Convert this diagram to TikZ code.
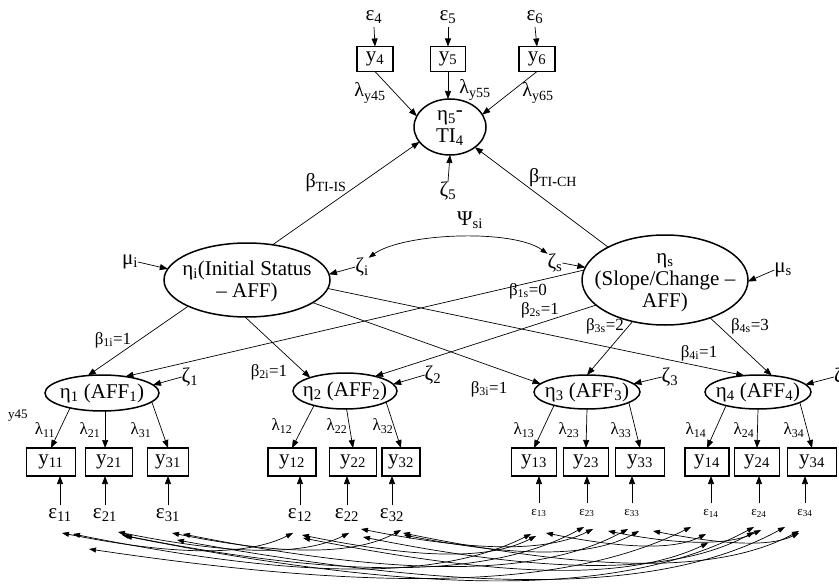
\documentclass[tikz,border=0pt]{standalone}
\usepackage{fontspec}
\setmainfont{Liberation Serif}
\usetikzlibrary{arrows.meta,shapes.geometric,calc}
\newcommand\fsA{\fontsize{21}{22}\selectfont}
\newcommand\fsB{\fontsize{17}{18}\selectfont}
\newcommand\fsC{\fontsize{13}{14}\selectfont}
\newcommand\fsD{\fontsize{20}{21}\selectfont}
\newcommand\sbs[1]{\textsubscript{#1}}
\begin{document}
\begin{tikzpicture}[x=1pt,y=-1pt,
  every node/.style={inner sep=0pt,outer sep=0pt},
  lat/.style={ellipse,draw,line width=1.5pt},
  obs/.style={rectangle,draw,line width=1.5pt,minimum height=28pt,font=\fsA},
  txt/.style={font=\fsA,align=center},
  lab/.style={font=\fsB},
  labl/.style={font=\fsD},
  err/.style={font=\fsA,minimum height=20pt},
  errs/.style={font=\fsC,minimum height=20pt},
  reg/.style={line width=0.7pt,-{Triangle[length=8pt,width=6pt]}},
  cov/.style={line width=0.7pt,{Triangle[length=7pt,width=5pt]}-{Triangle[length=7pt,width=5pt]}},
]
\useasboundingbox (0,0) rectangle (839,586);

% ---------- latent variables ----------
\node[lat,minimum width=72pt,minimum height=56pt] (eta5) at (450,127) {};
\node[txt] (eta5-t) at (450,128) {η\sbs{5}\raisebox{4pt}{-}\\TI\sbs{4}};
\node[lat,minimum width=166pt,minimum height=74pt] (etai) at (247,280) {};
\node[txt] (etai-t) at (247,281) {η\sbs{i}(Initial Status\\– AFF)};
\node[lat,minimum width=166pt,minimum height=90pt] (etas) at (665,280) {};
\node[txt] (etas-t) at (665,283) {η\sbs{s}\\(Slope/Change –\\AFF)};

\node[lat,minimum width=114pt,minimum height=36pt] (eta1) at (102,393) {};
\node[txt] (eta1-t) at (102,393) {η\sbs{1} (AFF\sbs{1})};
\node[lat,minimum width=104pt,minimum height=36pt] (eta2) at (345,391) {};
\node[txt] (eta2-t) at (345,391) {η\sbs{2} (AFF\sbs{2})};
\node[lat,minimum width=106pt,minimum height=34pt] (eta3) at (587,392) {};
\node[txt] (eta3-t) at (587,392) {η\sbs{3} (AFF\sbs{3})};
\node[lat,minimum width=106pt,minimum height=34pt] (eta4) at (758,392) {};
\node[txt] (eta4-t) at (758,392) {η\sbs{4} (AFF\sbs{4})};

% ---------- indicators of eta5 ----------
\node[obs,minimum width=36pt,minimum height=25pt] (y4) at (375,59) {y\sbs{4}};
\node[obs,minimum width=35pt,minimum height=25pt] (y5) at (448,59) {y\sbs{5}};
\node[obs,minimum width=36pt,minimum height=25pt] (y6) at (537,59) {y\sbs{6}};
\node[err] (e4) at (374,17) {ε\sbs{4}};
\node[err] (e5) at (448,17) {ε\sbs{5}};
\node[err] (e6) at (535,17) {ε\sbs{6}};
\draw[reg] (e4.south) -- (y4.north);
\draw[reg] (e5.south) -- (y5.north);
\draw[reg] (e6.south) -- (y6.north);
\draw[reg] (y4.south) -- (eta5.162);
\draw[reg] (y5.south) -- (y5.south |- eta5.north);
\draw[reg] (y6.south) -- (eta5.21);
\node[labl] (ly45) at (370,93) {λ\sbs{y45}};
\node[labl] (ly55) at (475,90) {λ\sbs{y55}};
\node[labl] (ly65) at (538,93) {λ\sbs{y65}};

% ---------- structural paths to eta5 ----------
\node[txt] (z5) at (448,191) {ζ\sbs{5}};
\draw[reg] (z5.north) -- (eta5.south);
\draw[reg] (etai.54.5) -- (eta5.206);
\draw[reg] (etas.150) -- (eta5.321);
\node[labl] (bis) at (326,183) {β\sbs{TI\textbf{-}IS}};
\node[labl] (bch) at (553,178) {β\sbs{TI\textbf{-}CH}};

% ---------- growth factors: means, disturbances, covariance ----------
\node[txt] (mui) at (130,262) {μ\sbs{i}};
\draw[reg] (mui.east) -- (etai.172);
\node[txt] (zi) at (362,267) {ζ\sbs{i}};
\draw[reg] (zi.west) -- (etai.4);
\node[txt] (zs) at (555,263) {ζ\sbs{s}};
\draw[reg] (zs.east) -- (etas.171.5);
\node[txt] (mus) at (783,270) {μ\sbs{s}};
\draw[reg] (mus.west) -- (etas.359);
\draw[cov] (zi.north east) .. controls +(35,-25) and +(-35,-25) .. (zs.north west);
\node[txt] (psi) at (470,220) {Ψ\sbs{si}};

% ---------- growth factor loadings ----------
\draw[reg] (etai.204) -- (eta1.129);
\draw[reg] (etai.267) -- (eta2.159);
\draw[reg] (etai.341) -- (eta3.170);
\draw[reg] (etai.354) -- (eta4.130);
\draw[reg] (etas.173) -- (eta1.35);
\draw[reg] (etas.200) -- (eta2.26);
\draw[reg] (etas.232) -- (eta3.90);
\draw[reg] (etas.320) -- (eta4.50);
\node[lab] (b1i) at (113,340) {β\sbs{1i}=1};
\node[lab] (b2i) at (269,372) {β\sbs{2i}=1};
\node[lab] (b3i) at (489,389) {β\sbs{3i}=1};
\node[lab] (b4i) at (699,353) {β\sbs{4i}=1};
\node[lab] (b1s) at (528,291) {β\sbs{1s}=0};
\node[lab] (b2s) at (540,310) {β\sbs{2s}=1};
\node[lab] (b3s) at (605,326) {β\sbs{3s}=2};
\node[lab] (b4s) at (750,326) {β\sbs{4s}=3};

% ---------- occasion disturbances ----------
\node[txt] (z1) at (190,377) {ζ\sbs{1}};
\node[txt] (z2) at (433,375) {ζ\sbs{2}};
\node[txt] (z3) at (670,377) {ζ\sbs{3}};
\node[txt,anchor=west] (z4) at (834,377) {ζ\sbs{4}};
\draw[reg] (z1.west) -- (eta1.9);
\draw[reg] (z2.west) -- (eta2.8.5);
\draw[reg] (z3.west) -- (eta3.10);
\draw[reg] (z4.west) -- (eta4.9);
\node[font=\fsC] (y45) at (18,416) {y45};

% ---------- observed indicators ----------
\node[obs,minimum width=49pt] (y11) at (51,462) {y\sbs{11}};
\node[obs,minimum width=47pt] (y21) at (109,462) {y\sbs{21}};
\node[obs,minimum width=41pt] (y31) at (168,462) {y\sbs{31}};
\node[obs,minimum width=48pt] (y12) at (292,462) {y\sbs{12}};
\node[obs,minimum width=47pt] (y22) at (353,462) {y\sbs{22}};
\node[obs,minimum width=38pt] (y32) at (401,462) {y\sbs{32}};
\node[obs,minimum width=45pt] (y13) at (534,462) {y\sbs{13}};
\node[obs,minimum width=45pt] (y23) at (586,462) {y\sbs{23}};
\node[obs,minimum width=49pt] (y33) at (640,462) {y\sbs{33}};
\node[obs,minimum width=44pt] (y14) at (707,462) {y\sbs{14}};
\node[obs,minimum width=45pt] (y24) at (757,462) {y\sbs{24}};
\node[obs,minimum width=49pt] (y34) at (812,462) {y\sbs{34}};

\draw[reg] (eta1.205) -- (y11.north);
\draw[reg] (eta1.280) -- (eta1.280 |- y21.north);
\draw[reg] (eta1.350) -- (y31.north);
\draw[reg] (eta2.205) -- (y12.north);
\draw[reg] (eta2.275) -- (y22.north);
\draw[reg] (eta2.345) -- (y32.north);
\draw[reg] (eta3.202) -- (y13.north);
\draw[reg] (eta3.south) -- (y23.north);
\draw[reg] (eta3.346) -- (y33.north);
\draw[reg] (eta4.203) -- (y14.north);
\draw[reg] (eta4.south) -- (y24.north);
\draw[reg] (eta4.346) -- (y34.north);

\node[lab] (l11) at (45,430) {λ\sbs{11}};
\node[lab] (l21) at (90,430) {λ\sbs{21}};
\node[lab] (l31) at (141,430) {λ\sbs{31}};
\node[lab] (l12) at (282,426) {λ\sbs{12}};
\node[lab] (l22) at (337,426) {λ\sbs{22}};
\node[lab] (l32) at (383,426) {λ\sbs{32}};
\node[lab] (l13) at (524,430) {λ\sbs{13}};
\node[lab] (l23) at (569,430) {λ\sbs{23}};
\node[lab] (l33) at (621,430) {λ\sbs{33}};
\node[lab] (l14) at (696,430) {λ\sbs{14}};
\node[lab] (l24) at (744,430) {λ\sbs{24}};
\node[lab] (l34) at (794,430) {λ\sbs{34}};

% ---------- measurement errors ----------
\node[err] (e11) at (60,515) {ε\sbs{11}};
\node[err] (e21) at (105,515) {ε\sbs{21}};
\node[err] (e31) at (168,515) {ε\sbs{31}};
\node[err] (e12) at (300,515) {ε\sbs{12}};
\node[err] (e22) at (347,515) {ε\sbs{22}};
\node[err] (e32) at (392,515) {ε\sbs{32}};
\node[errs] (e13) at (539,513) {ε\sbs{13}};
\node[errs] (e23) at (587,513) {ε\sbs{23}};
\node[errs] (e33) at (632,513) {ε\sbs{33}};
\node[errs] (e14) at (711,513) {ε\sbs{14}};
\node[errs] (e24) at (759,513) {ε\sbs{24}};
\node[errs] (e34) at (805,513) {ε\sbs{34}};
\foreach \i/\j in {11/11,21/21,31/31,12/12,22/22,32/32,13/13,23/23,33/33,14/14,24/24,34/34}
  \draw[reg] (e\i.north) -- (e\i.north |- y\j.south);

% anchor points below the error labels for the error covariances
\foreach \i in {11,21,31,12,22,32}
  \coordinate (c\i) at ([yshift=-8pt]e\i.south);
\foreach \i in {13,23,33,14,24,34}
  \coordinate (c\i) at ([yshift=-10pt]e\i.south);

% correlated errors of the same indicator over time
\draw[cov] ($(c11)+(2,0)$)  .. controls +(115,23) and +(-46,23) .. ($(c12)+(-7,0)$);
\draw[cov] ($(c11)+(13,1)$) .. controls +(230,46) and +(-92,46) .. ($(c13)+(-8,1)$);
\draw[cov] ($(c11)+(29,16)$) .. controls +(302,45) and +(-121,60) .. ($(c14)+(-20,-6)$);
\draw[cov] ($(c12)+(2,2)$)  .. controls +(118,24) and +(-47,24) .. ($(c13)+(-3,3)$);
\draw[cov] ($(c12)+(3,5)$)  .. controls +(203,40) and +(-81,38) .. ($(c14)+(-3,10)$);
\draw[cov] ($(c13)+(7,0)$)  .. controls +(80,16) and +(-32,16) .. ($(c14)+(-5,1)$);

\draw[cov] ($(c21)+(13,-1)$) .. controls +(115,23) and +(-46,23) .. ($(c22)+(2,0)$);
\draw[cov] ($(c21)+(17,2)$)  .. controls +(230,46) and +(-92,50) .. ($(c23)+(-3,-6)$);
\draw[cov] ($(c21)+(20,3)$)  .. controls +(314,62) and +(-126,68) .. ($(c24)+(-5,-6)$);
\draw[cov] ($(c22)+(14,-4)$) .. controls +(116,23) and +(-46,23) .. ($(c23)+(6,-4)$);
\draw[cov] ($(c22)+(16,4)$)  .. controls +(195,39) and +(-78,42) .. ($(c24)+(-5,-1)$);
\draw[cov] ($(c23)+(21,-2)$) .. controls +(76,15) and +(-31,15) .. ($(c24)+(2,-3)$);

\draw[cov] ($(c31)+(4,0)$)  .. controls +(114,23) and +(-46,25) .. ($(c32)+(9,-3)$);
\draw[cov] ($(c31)+(15,1)$) .. controls +(222,44) and +(-89,48) .. ($(c33)+(-4,-4)$);
\draw[cov] ($(c31)+(9,7)$)  .. controls +(303,55) and +(-121,66) .. ($(c34)+(-20,-6)$);
\draw[cov] ($(c32)+(12,2)$) .. controls +(117,23) and +(-47,26) .. ($(c33)+(7,-2)$);
\draw[cov] ($(c32)+(11,0)$) .. controls +(197,40) and +(-79,42) .. ($(c34)+(-6,-2)$);
\draw[cov] ($(c33)+(21,-2)$) .. controls +(72,14) and +(-29,14) .. ($(c34)+(-6,0)$);
\end{tikzpicture}
\end{document}
